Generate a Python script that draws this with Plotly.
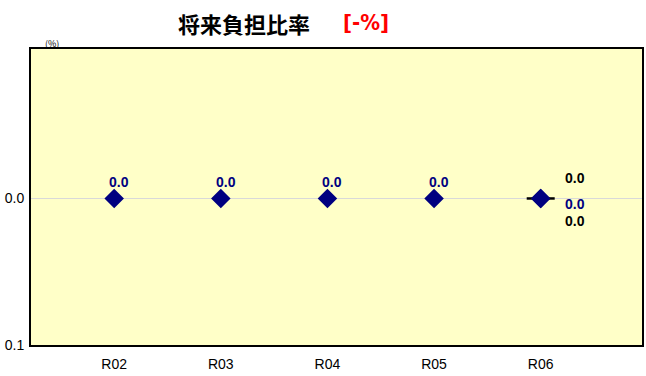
import plotly.graph_objects as go

# Fiscal years and ratio values (%)
years = ["R02", "R03", "R04", "R05", "R06"]
ratio = [0.0, 0.0, 0.0, 0.0, 0.0]
# Similar-group average for the latest year
group_year = ["R06"]
group_avg = [0.0]
# Extra reference values printed beside the latest year
ref_upper = 0.0
ref_lower = 0.0

y_ticks = [0.0, 0.1]
y_ticktext = ["0.0", "0.1"]

NAVY = "#000080"
label_font = dict(family="Liberation Sans, Arial, sans-serif", size=14, color=NAVY)

fig = go.Figure()

# Main series as diamonds
fig.add_trace(go.Scatter(
    x=years, y=ratio, mode="markers",
    marker=dict(symbol="diamond", size=15, color=NAVY),
    showlegend=False,
))

# Group average shown as a short horizontal bar
fig.add_trace(go.Scatter(
    x=group_year, y=group_avg, mode="markers",
    marker=dict(symbol="line-ew", size=20, line=dict(color="black", width=2.5)),
    hoverinfo="skip", showlegend=False,
))

# Redraw the latest diamond on top of the bar
fig.add_trace(go.Scatter(
    x=years[-1:], y=ratio[-1:], mode="markers",
    marker=dict(symbol="diamond", size=15, color=NAVY),
    hoverinfo="skip", showlegend=False,
))

# Value labels above each diamond (except the last, labelled to the side)
for yr, v in zip(years[:-1], ratio[:-1]):
    fig.add_annotation(
        x=yr, y=v, text=f"<b>{v:.1f}</b>", showarrow=False,
        yshift=16, xshift=5, font=label_font,
    )

last_x, last_v = years[-1], ratio[-1]
fig.add_annotation(x=last_x, y=group_avg[0], text=f"<b>{ref_upper:.1f}</b>",
                   showarrow=False, xshift=34, yshift=20,
                   font=dict(label_font, color="black"))
fig.add_annotation(x=last_x, y=last_v, text=f"<b>{last_v:.1f}</b>",
                   showarrow=False, xshift=34, yshift=-6, font=label_font)
fig.add_annotation(x=last_x, y=group_avg[0], text=f"<b>{ref_lower:.1f}</b>",
                   showarrow=False, xshift=34, yshift=-23,
                   font=dict(label_font, color="black"))

# Title pieces
fig.add_annotation(
    xref="paper", yref="paper", x=0.349, y=1.088, yanchor="middle",
    text="<b>将来負担比率</b>", showarrow=False,
    font=dict(family="Noto Sans CJK JP", size=22, color="black"),
)
fig.add_annotation(
    xref="paper", yref="paper", x=0.548, y=1.088, yanchor="middle",
    text="<b>[-%]</b>", showarrow=False,
    font=dict(family="DejaVu Sans Condensed, Liberation Sans Narrow, sans-serif",
              size=22, color="red"),
)
# Unit label
fig.add_annotation(
    xref="paper", yref="paper", x=0.0196, y=1.02, yanchor="middle",
    text="(%)", showarrow=False,
    font=dict(family="Noto Sans CJK JP", size=9, color="black"),
)

fig.update_layout(
    width=646, height=376,
    margin=dict(l=31, r=2, t=49, b=31),
    paper_bgcolor="white",
    plot_bgcolor="#FFFFC8",
    xaxis=dict(
        type="category", categoryorder="array", categoryarray=years,
        range=[-0.78, 4.95],
        showgrid=False, zeroline=False,
        showline=True, linecolor="black", linewidth=2, mirror=True,
        tickfont=dict(family="Liberation Sans, Arial, sans-serif", size=14, color="black"),
        ticks="", ticklabelstandoff=5,
    ),
    yaxis=dict(
        range=[0.1, -0.102],
        tickvals=y_ticks, ticktext=y_ticktext,
        showgrid=True, gridcolor="#D9D9D9", gridwidth=1,
        zeroline=False,
        showline=True, linecolor="black", linewidth=2, mirror=True,
        tickfont=dict(family="Liberation Sans, Arial, sans-serif", size=14, color="black"),
        ticks="", ticklabelstandoff=2,
    ),
)

fig.write_html("out.html")
